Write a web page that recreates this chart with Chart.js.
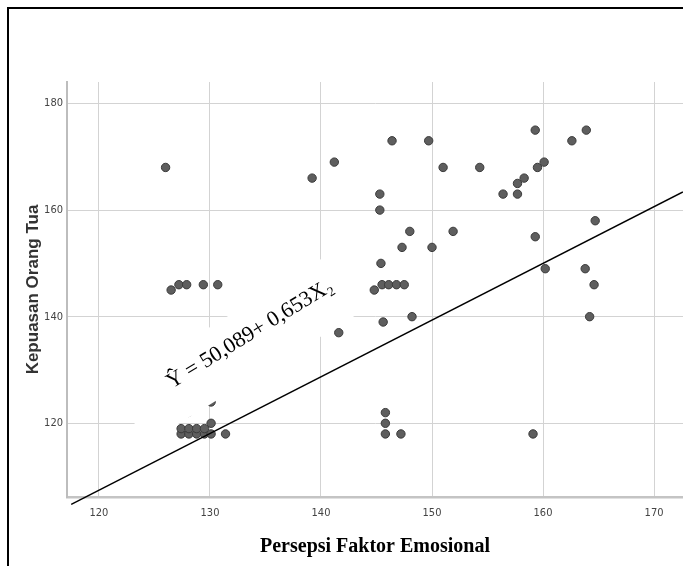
<!DOCTYPE html>
<html lang="id">
<head>
<meta charset="UTF-8">
<title>Persepsi Faktor Emosional dan Kepuasan Orang Tua</title>
<script src="https://cdn.jsdelivr.net/npm/chart.js"></script>
<style>
  body { margin: 0; background: #fff; }
  #wrap { position: relative; width: 683px; height: 566px; overflow: hidden; }
  #frame { position: absolute; left: 7px; top: 7px; width: 700px; height: 600px;
           border: 2px solid #000; pointer-events: none; }
</style>
</head>
<body>
<div id="wrap">
  <canvas id="chart" width="683" height="566"></canvas>
  <div id="frame"></div>
</div>

<script>
// skor tiap responden
const persepsi = [
  126, 139.2, 141.2, 146.4, 145.3, 145.3, 145.4, 144.8, 145.5, 146.1, 146.8, 147.5,
  126.5, 127.2, 127.9, 129.4, 130.7, 145.6, 141.6,
  159.3, 163.9, 149.7, 162.6, 151, 154.3, 159.5, 160.1, 157.7, 158.3, 156.4, 157.7,
  164.7, 148, 151.9, 147.3, 150, 159.3, 160.2, 163.8, 164.6, 148.2, 164.2,
  127.4, 127.4, 128.1, 128.1, 128.8, 128.8, 129.5, 129.5, 130.1, 130.1, 131.4, 128, 130.1,
  145.8, 145.8, 145.8, 147.2, 159.1
];
const kepuasan = [
  168, 166, 169, 173, 163, 160, 150, 145, 146, 146, 146, 146,
  145, 146, 146, 146, 146, 139, 137,
  175, 175, 173, 173, 168, 168, 168, 169, 165, 166, 163, 163,
  158, 156, 156, 153, 153, 155, 149, 149, 146, 140, 140,
  118, 119, 118, 119, 118, 119, 118, 119, 118, 120, 118, 122, 124,
  122, 120, 118, 118, 118
];

const xTicks = [120, 130, 140, 150, 160, 170];
const yTicks = [120, 140, 160, 180];

// garis regresi seperti yang digambar
const garisX = [117.5, 172.6];
const garisY = [104.8, 163.4];

const persamaan = 'Ŷ = 50,089+ 0,653X₂';

const titik = persepsi.map((v, i) => ({ x: v, y: kepuasan[i] }));
const garis = garisX.map((v, i) => ({ x: v, y: garisY[i] }));

const labelPersamaan = {
  id: 'labelPersamaan',
  afterDatasetsDraw(chart) {
    const { ctx, scales: { x, y } } = chart;
    const cx = x.getPixelForValue(133.6);
    const cy = y.getPixelForValue(136.7);
    ctx.save();
    ctx.translate(cx, cy);
    ctx.rotate(-31.5 * Math.PI / 180);
    ctx.fillStyle = '#fff';
    ctx.fillRect(-145, -27, 258, 66);
    ctx.fillStyle = '#000';
    ctx.font = '22px "Liberation Serif", "Times New Roman", serif';
    ctx.textAlign = 'center';
    ctx.textBaseline = 'middle';
    ctx.fillText(persamaan, 0, 0);
    ctx.restore();
  }
};

const angka = { family: '"Liberation Sans Narrow", "DejaVu Sans Condensed", sans-serif', size: 11 };

new Chart(document.getElementById('chart'), {
  type: 'scatter',
  data: {
    datasets: [
      {
        data: garis,
        showLine: true,
        borderColor: '#000',
        borderWidth: 1.4,
        pointRadius: 0,
        clip: false
      },
      {
        data: titik,
        pointRadius: 4.2,
        pointBackgroundColor: '#5e5e5e',
        pointBorderColor: '#3a3a3a',
        pointBorderWidth: 1
      }
    ]
  },
  options: {
    responsive: false,
    animation: false,
    layout: { autoPadding: false, padding: { left: 0, top: 82, right: 0, bottom: 0 } },
    plugins: { legend: { display: false }, tooltip: { enabled: false } },
    scales: {
      x: {
        type: 'linear',
        min: 117.12,
        max: 172.61,
        afterBuildTicks: s => { s.ticks = xTicks.map(v => ({ value: v })); },
        afterFit: s => { s.height = 69; s.paddingLeft = 0; s.paddingRight = 0; },
        grid: { color: '#d3d3d3', lineWidth: 1, drawTicks: false },
        border: { color: '#c4c4c4', width: 2.5 },
        ticks: { font: angka, color: '#444', padding: 10, maxRotation: 0 },
        title: {
          display: true,
          text: 'Persepsi Faktor Emosional',
          color: '#000',
          font: { family: '"Liberation Serif", "Times New Roman", serif', size: 20, weight: 'bold' },
          padding: { top: 0, bottom: 7 }
        }
      },
      y: {
        type: 'linear',
        min: 106.17,
        max: 184.03,
        afterBuildTicks: s => { s.ticks = yTicks.map(v => ({ value: v })); },
        afterFit: s => { s.width = 67; },
        grid: { color: '#d3d3d3', lineWidth: 1, drawTicks: false },
        border: { color: '#bdbdbd', width: 2 },
        ticks: { font: angka, color: '#444', padding: 4 },
        title: {
          display: true,
          text: 'Kepuasan Orang Tua',
          color: '#333',
          font: { family: '"Liberation Sans", Arial, sans-serif', size: 17, weight: 'bold' },
          padding: { top: 23, bottom: 0 }
        }
      }
    }
  },
  plugins: [labelPersamaan]
});
</script>
</body>
</html>
